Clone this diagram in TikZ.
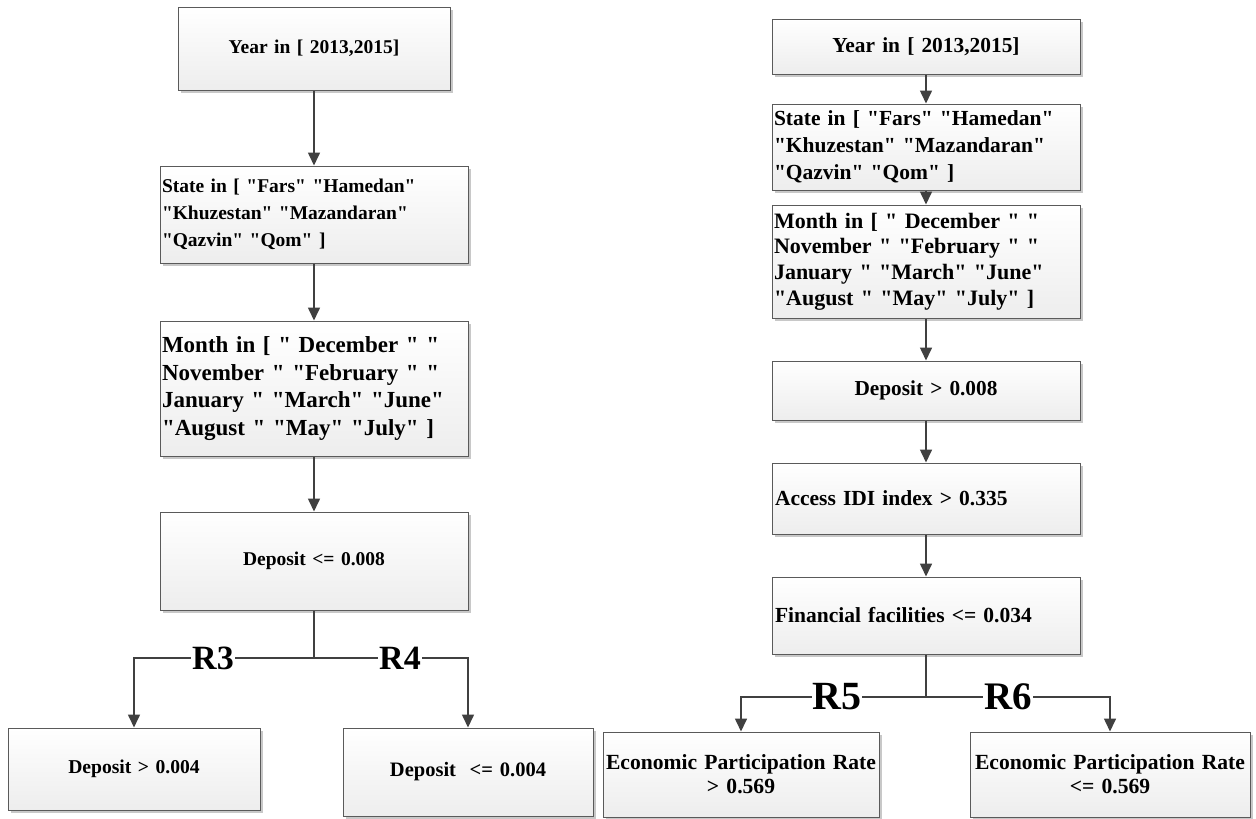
\documentclass[tikz,border=0pt]{standalone}
\usepackage{fontspec}
\setmainfont{Liberation Serif}[Ligatures=TeXOff]
\usetikzlibrary{arrows.meta,shadows}
\definecolor{boxline}{HTML}{5A5A5A}
\definecolor{conline}{HTML}{404040}
\definecolor{shadowgray}{HTML}{C8C8C8}
\newcommand{\fs}[2]{\fontsize{#1}{#2}\selectfont}
\tikzset{
  boxnode/.style={draw=boxline, line width=1pt, rectangle, top color=white, bottom color=gray!14,
    drop shadow={shadow xshift=3pt, shadow yshift=-3pt, fill=shadowgray, opacity=1},
    inner xsep=2pt, inner ysep=1pt},
  conn/.style={draw=conline, line width=1.6pt},
  arr/.style={conn, -{Triangle[width=12pt,length=13pt]}},
  rlab/.style={fill=white, inner xsep=1pt, inner ysep=0pt}
}
\begin{document}
\begin{tikzpicture}[x=1pt,y=-1pt]
\useasboundingbox[fill=white] (0,0) rectangle (1256,819);
% ---------- left column ----------
\node[boxnode, font=\bfseries\fs{19.5}{23}, minimum width=272pt, minimum height=83pt, text width=268pt, align=center] (b1) at (314,48.5) {Year in [ 2013,2015]};
\node[boxnode, font=\bfseries\fs{19.5}{26.7}, minimum width=308pt, minimum height=97pt, text width=304pt, align=left] (b2) at (314,214.5) {State in [ "Fars" "Hamedan"\\ "Khuzestan" "Mazandaran"\\ "Qazvin" "Qom" ]};
\node[boxnode, font=\bfseries\fs{23}{27.7}, minimum width=308pt, minimum height=135pt, text width=304pt, align=left] (b3) at (314,388.5) {Month in [ " December " "\\ November " "February " "\\ January " "March" "June"\\ "August " "May" "July" ]};
\node[boxnode, font=\bfseries\fs{19.5}{23}, minimum width=308pt, minimum height=98pt, text width=304pt, align=center] (b4) at (314,561) {Deposit <= 0.008};
\node[boxnode, font=\bfseries\fs{19.6}{23}, minimum width=252pt, minimum height=82pt, text width=248pt, align=center] (l1) at (134,769) {Deposit > 0.004};
\node[boxnode, font=\bfseries\fs{20.5}{24}, minimum width=250pt, minimum height=88pt, text width=246pt, align=center] (l2) at (468,772) {Deposit\ \ <= 0.004};
\draw[arr] (b1.south) -- (b1.south |- b2.north);
\draw[arr] (b2.south) -- (b2.south |- b3.north);
\draw[arr] (b3.south) -- (b3.south |- b4.north);
\coordinate (j1) at (314,658);
\draw[conn] (b4.south) -- (j1);
\draw[arr] (j1) -| (l1.north);
\draw[arr] (j1) -| (l2.north);
\node[rlab, font=\bfseries\fs{34}{36}] (r3) at (213,658) {R3};
\node[rlab, font=\bfseries\fs{34}{36}] (r4) at (400,658) {R4};
% ---------- right column ----------
\node[boxnode, font=\bfseries\fs{21.4}{25}, minimum width=308pt, minimum height=55pt, text width=304pt, align=center] (c1) at (926,46.5) {Year in [ 2013,2015]};
\node[boxnode, font=\bfseries\fs{21.5}{27}, minimum width=308pt, minimum height=86pt, text width=304pt, align=left] (c2) at (926,147) {State in [ "Fars" "Hamedan"\\ "Khuzestan" "Mazandaran"\\ "Qazvin" "Qom" ]};
\node[boxnode, font=\bfseries\fs{22}{25.7}, minimum width=308pt, minimum height=113pt, text width=304pt, align=left] (c3) at (926,261.5) {Month in [ " December " "\\ November " "February " "\\ January " "March" "June"\\ "August " "May" "July" ]};
\node[boxnode, font=\bfseries\fs{21.3}{25}, minimum width=308pt, minimum height=59pt, text width=304pt, align=center] (c4) at (926,390.5) {Deposit > 0.008};
\node[boxnode, font=\bfseries\fs{21.5}{25}, minimum width=308pt, minimum height=71pt, text width=302pt, inner xsep=3pt, align=left] (c5) at (926,498.5) {Access IDI index > 0.335};
\node[boxnode, font=\bfseries\fs{21.5}{25}, minimum width=308pt, minimum height=77pt, text width=302pt, inner xsep=3pt, align=left] (c6) at (926,615.5) {Financial facilities <= 0.034};
\node[boxnode, font=\bfseries\fs{21.6}{24}, minimum width=276pt, minimum height=85pt, text width=272pt, align=center] (m1) at (741,774.5) {Economic Participation Rate\\ > 0.569};
\node[boxnode, font=\bfseries\fs{21.6}{24}, minimum width=280pt, minimum height=85pt, text width=276pt, align=center] (m2) at (1110,774.5) {Economic Participation Rate\\ <= 0.569};
\draw[arr] (c1.south) -- (c2.north);
\draw[arr] (c2.south) -- (c3.north);
\draw[arr] (c3.south) -- (c4.north);
\draw[arr] (c4.south) -- (c5.north);
\draw[arr] (c5.south) -- (c6.north);
\coordinate (j2) at (926,697);
\draw[conn] (c6.south) -- (j2);
\draw[arr] (j2) -| (m1.north);
\draw[arr] (j2) -| (m2.north);
\node[rlab, font=\bfseries\fs{40}{42}] (r5) at (837,697) {R5};
\node[rlab, font=\bfseries\fs{39}{41}] (r6) at (1008,697) {R6};
\end{tikzpicture}
\end{document}
